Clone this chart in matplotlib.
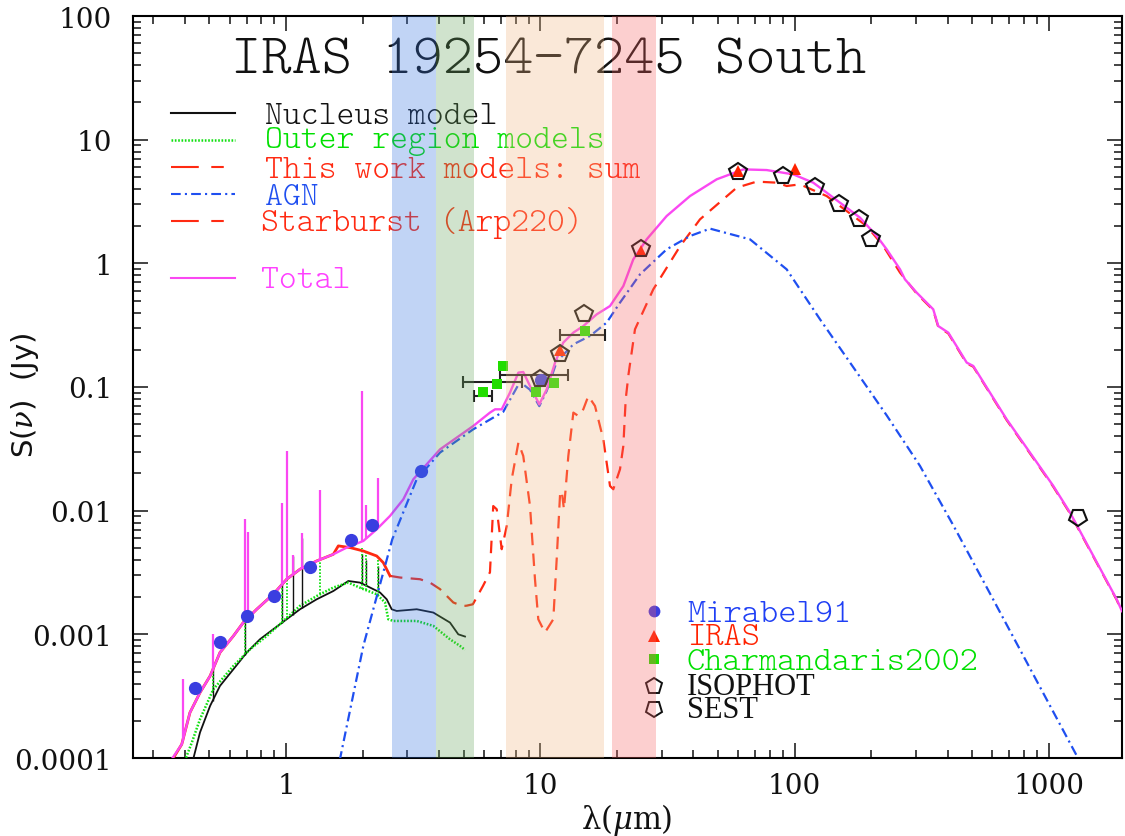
import numpy as np
import matplotlib
matplotlib.use("Agg")
import matplotlib.pyplot as plt
from matplotlib.markers import MarkerStyle
from matplotlib.transforms import Affine2D
from matplotlib.ticker import FixedLocator, FixedFormatter, LogLocator, NullFormatter

plt.rcParams["lines.scale_dashes"] = False
plt.rcParams["mathtext.fontset"] = "dejavuserif"

# ---------------- photometry (wavelength in micron, flux in Jy) ----------------
mirabel_wl = [0.44, 0.55, 0.70, 0.90, 1.24, 1.80, 2.18, 3.40, 10.1]
mirabel_f = [3.7e-4, 8.6e-4, 1.4e-3, 2.03e-3, 3.5e-3, 5.8e-3, 7.6e-3, 0.021, 0.113]

iras_wl = [12.0, 25.0, 60.0, 100.0]
iras_f = [0.20, 1.26, 5.57, 5.75]

charm_wl = [5.97, 6.74, 7.16, 9.59, 11.35, 15.0]
charm_f = [0.0911, 0.105, 0.148, 0.091, 0.107, 0.284]

isophot_wl = [9.97, 11.95, 14.9, 25.0, 60.0, 90.0, 120.0, 150.0, 180.0, 200.0]
isophot_f = [0.115, 0.184, 0.387, 1.30, 5.47, 5.08, 4.17, 3.00, 2.27, 1.56]

sest_wl = [1300.0]
sest_f = [0.00885]

# filter widths of the mid-infrared measurements
filt_lo = [5.49, 4.98, 6.94, 11.95]
filt_hi = [6.46, 8.45, 12.85, 17.96]
filt_f = [0.0846, 0.110, 0.125, 0.262]

# ---------------- model curves ----------------
total_wl = [0.352, 0.389, 0.419, 0.459, 0.503, 0.550, 0.621, 0.679, 0.767, 0.891,
            1.006, 1.135, 1.320, 1.535, 1.733, 2.014, 2.274, 2.564, 2.893, 3.168,
            4.033, 5.45, 6.34, 6.64, 7.05, 7.60, 8.20, 8.57, 9.11, 9.91,
            10.6, 11.43, 12.31, 13.49, 14.76, 16.67, 18.80, 21.21, 23.21, 26.20,
            31.4, 38.8, 49.4, 62.9, 77.6, 98.8, 118.4, 133.7, 150.8, 180.8,
            210.4, 230.2, 259.8, 271.7, 302.0, 351.0, 367.3, 402.2, 475.2, 504.3,
            682.3, 1041.0, 1211.0, 1848.0, 1939.0]
total_f = [9.5e-5, 1.29e-4, 2.33e-4, 3.38e-4, 4.61e-4, 7.13e-4, 9.70e-4, 1.245e-3, 1.595e-3, 2.11e-3,
           2.79e-3, 3.36e-3, 3.92e-3, 4.44e-3, 5.03e-3, 5.69e-3, 7.07e-3, 9.06e-3, 0.01236, 0.01795,
           0.0313, 0.0484, 0.0621, 0.066, 0.066, 0.0901, 0.1307, 0.1322, 0.1019, 0.0724,
           0.0958, 0.1575, 0.2285, 0.2753, 0.311, 0.387, 0.4515, 0.655, 1.077, 1.563,
           2.413, 3.50, 4.78, 5.75, 5.68, 5.24, 4.49, 3.73, 3.095, 2.342,
           1.663, 1.298, 0.894, 0.742, 0.580, 0.4247, 0.311, 0.2752, 0.1575, 0.1479,
           0.0548, 0.01584, 0.00965, 0.00192, 0.00154]

# emission lines in the total spectrum
line_wl = [0.392, 0.515, 0.690, 0.707, 0.962, 1.006, 1.062, 1.159, 1.36, 1.99, 2.064, 2.294]
line_top = [4.34e-4, 1.0e-3, 8.63e-3, 6.69e-3, 0.0115, 0.0304, 4.36e-3, 6.56e-3, 0.0146, 0.0928, 0.0111, 0.0185]

agn_wl = [1.625, 2.014, 2.618, 3.266, 4.033, 5.45, 7.15, 8.32, 9.11, 9.91, 10.6, 11.6,
          13.49, 15.68, 18.24, 20.58, 24.67, 31.4, 38.8, 46.5, 66.8, 93.1, 125.9, 170.2,
          230.2, 311.3, 420.7, 569.4, 1298.0, 1390.0]
agn_f = [9.5e-5, 8.06e-4, 5.87e-3, 0.01795, 0.0295, 0.0455, 0.063, 0.11, 0.095, 0.07, 0.093, 0.16,
         0.2214, 0.2584, 0.3317, 0.4813, 0.815, 1.298, 1.663, 1.908, 1.563, 0.894, 0.3526, 0.1443,
         0.059, 0.023, 0.00762, 0.0024, 1.01e-4, 5.5e-5]

starburst_wl = [5.10, 5.43, 5.95, 6.34, 6.53, 6.74, 7.05, 7.38, 7.72, 8.20, 8.57, 9.11, 9.53, 9.82,
                10.43, 11.25, 11.6, 11.96, 12.14, 12.39, 12.89, 13.49, 14.11, 14.76, 15.45, 16.41,
                17.69, 18.80, 19.37, 20.58, 21.21, 21.67, 22.23, 23.57, 27.82, 35.43, 42.46, 59.2,
                70.96, 85.04, 93.1, 105.0, 133.7, 160.3, 192.1, 223.3, 259.8, 302.0, 351.0, 367.3,
                402.2, 475.2, 504.3, 682.3, 1041.0, 1211.0, 1848.0, 1939.0]
starburst_f = [1.70e-3, 1.75e-3, 2.46e-3, 3.18e-3, 0.0109, 0.01026, 4.88e-3, 7.52e-3, 0.01795, 0.0355,
               0.0277, 0.0109, 2.79e-3, 1.324e-3, 1.034e-3, 1.324e-3, 4.05e-3, 0.01357, 0.01443,
               0.01026, 0.0277, 0.0621, 0.0583, 0.0660, 0.0846, 0.0702, 0.0378, 0.01584, 0.0149,
               0.0216, 0.0334, 0.0795, 0.1267, 0.2927, 0.6165, 1.372, 2.268, 4.09, 4.58, 4.49,
               4.22, 4.35, 3.50, 2.648, 2.002, 1.380, 0.841, 0.570, 0.418, 0.306, 0.271, 0.155,
               0.146, 0.054, 0.0156, 0.0095, 0.0019, 0.00152]

sum_wl = [0.355, 0.389, 0.419, 0.459, 0.503, 0.550, 0.621, 0.679, 0.767, 0.891, 1.006, 1.135,
          1.320, 1.535, 1.606, 1.785, 2.014, 2.274, 2.413, 2.564, 2.808, 3.365, 3.684, 4.033,
          4.548, 4.909, 5.10]
sum_f = [9.5e-5, 1.29e-4, 2.33e-4, 3.38e-4, 4.61e-4, 7.13e-4, 9.70e-4, 1.245e-3, 1.595e-3,
         2.11e-3, 2.79e-3, 3.36e-3, 3.92e-3, 4.44e-3, 5.19e-3, 5.03e-3, 4.72e-3, 4.30e-3,
         3.80e-3, 2.97e-3, 2.88e-3, 2.79e-3, 2.62e-3, 2.32e-3, 1.81e-3, 1.70e-3, 1.70e-3]

nucleus_wl = [0.43, 0.459, 0.503, 0.550, 0.621, 0.701, 0.790, 0.891, 1.006, 1.135, 1.320, 1.535,
              1.758, 1.954, 2.14, 2.342, 2.489, 2.604, 2.725, 3.266, 3.796, 4.414, 4.759, 5.057]
nucleus_f = [9.5e-5, 1.61e-4, 2.64e-4, 3.83e-4, 5.22e-4, 7.13e-4, 9.12e-4, 1.10e-3, 1.324e-3,
             1.595e-3, 1.92e-3, 2.24e-3, 2.70e-3, 2.62e-3, 2.39e-3, 2.18e-3, 1.92e-3, 1.595e-3,
             1.545e-3, 1.595e-3, 1.50e-3, 1.245e-3, 1.0e-3, 9.6e-4]
nucleus_line_wl = [0.515, 0.690, 0.962, 1.062, 1.159, 1.99, 2.064, 2.294]
nucleus_line_top = [5.5e-4, 1.5e-3, 2.6e-3, 4.3e-3, 6.0e-3, 4.5e-3, 4.0e-3, 3.6e-3]

outer_wl = [0.40, 0.426, 0.459, 0.518, 0.621, 0.722, 0.840, 0.962, 1.135, 1.320, 1.535, 1.758,
            2.014, 2.274, 2.451, 2.525, 2.642, 3.266, 3.796, 4.414, 4.833, 5.057]
outer_f = [9.5e-5, 1.33e-4, 2.06e-4, 3.60e-4, 5.55e-4, 7.58e-4, 9.70e-4, 1.245e-3, 1.70e-3,
           2.04e-3, 2.39e-3, 2.62e-3, 2.32e-3, 2.11e-3, 1.81e-3, 1.324e-3, 1.283e-3, 1.283e-3,
           1.17e-3, 9.12e-4, 8.06e-4, 7.48e-4]
outer_line_wl = [0.515, 0.690, 0.962, 1.006, 1.36, 1.99, 2.064, 2.294]
outer_line_top = [6.0e-4, 1.45e-3, 2.5e-3, 2.8e-3, 3.9e-3, 5.0e-3, 4.6e-3, 4.0e-3]

# shaded wavelength windows (micron)
band_lo = [2.61, 3.89, 7.31, 19.1]
band_hi = [3.89, 5.49, 17.8, 28.5]
band_colors = [(0.203, 0.45, 0.87), (0.40, 0.647, 0.36), (0.947, 0.713, 0.503), (0.973, 0.387, 0.387)]

title = "IRAS 19254\u22127245 South"
model_labels = ["Nucleus model", "Outer region models", "This work models: sum", "AGN",
                "Starburst (Arp220)", "Total"]
data_labels = ["Mirabel91", "IRAS", "Charmandaris2002", "ISOPHOT", "SEST"]

# ---------------- colours ----------------
PINK = "#fa48f2"
BLUE = "#1f4ff0"
RED = "#ff2a12"
GREEN = "#10e010"
BLACK = "#111111"

W, H = 1125, 837
fig = plt.figure(figsize=(W / 100, H / 100), dpi=100)


def fx(x):
    return x / W


def fy(y):
    return 1 - y / H


ax = fig.add_axes([fx(133), fy(759), (1122 - 133) / W, (759 - 17) / H])
ax.set_xscale("log")
ax.set_yscale("log")
ax.set_xlim(0.2502, 1939)
ax.set_ylim(1e-4, 100)

# model curves
ax.plot(nucleus_wl, nucleus_f, color=BLACK, lw=1.3, zorder=3)
ax.plot(outer_wl, outer_f, color=GREEN, lw=1.8, ls=(0, (1.2, 1.2)), zorder=3)

nb = 10 ** np.interp(np.log10(nucleus_line_wl), np.log10(nucleus_wl), np.log10(nucleus_f))
ax.vlines(nucleus_line_wl, nb, nucleus_line_top, color=BLACK, lw=1.0, zorder=3)
ob = 10 ** np.interp(np.log10(outer_line_wl), np.log10(outer_wl), np.log10(outer_f))
ax.vlines(outer_line_wl, ob, outer_line_top, color=GREEN, lw=1.3, linestyles=(0, (1.2, 1.2)), zorder=3)

sum_wl_a = np.array(sum_wl)
sum_f_a = np.array(sum_f)
spec = sum_wl_a <= 2.57
ax.plot(sum_wl_a[spec], sum_f_a[spec], color=RED, lw=2.0, zorder=3)
ax.plot(sum_wl_a[sum_wl_a >= 2.56], sum_f_a[sum_wl_a >= 2.56], color=RED, lw=1.6,
        dashes=(9, 6), zorder=3)

ax.plot(starburst_wl, starburst_f, color=RED, lw=1.6, dashes=(9, 6), zorder=3)
ax.plot(agn_wl, agn_f, color=BLUE, lw=1.6, dashes=(7, 3, 1.5, 3), zorder=3.5)

tb = 10 ** np.interp(np.log10(line_wl), np.log10(total_wl), np.log10(total_f))
ax.vlines(line_wl, tb, line_top, color=PINK, lw=1.6, zorder=4)
ax.plot(total_wl, total_f, color=PINK, lw=1.7, zorder=4)

# filter widths
fc = np.sqrt(np.array(filt_lo) * np.array(filt_hi))
ax.errorbar(fc, filt_f, xerr=[fc - np.array(filt_lo), np.array(filt_hi) - fc], fmt="none",
            ecolor="#222222", elinewidth=1.5, capsize=4, capthick=1.5, zorder=5)

# photometry
ax.plot(charm_wl, charm_f, "s", color="#22dd00", ms=7.5, mew=0, zorder=6)
ax.plot(mirabel_wl, mirabel_f, "o", color="#3a3ee0", ms=9.5, mew=0, zorder=6)
ax.plot(iras_wl, iras_f, "^", color="#ff2200", ms=9, mew=0, zorder=6)
ax.plot(isophot_wl, isophot_f, "p", mfc="none", mec=BLACK, ms=13, mew=1.5, zorder=7)
sest_marker = MarkerStyle("p", transform=Affine2D().rotate_deg(180))
ax.plot(sest_wl, sest_f, marker=sest_marker, ls="none", mfc="none", mec=BLACK, ms=13,
        mew=1.5, zorder=7)

# shaded windows, drawn over everything
for lo, hi, c in zip(band_lo, band_hi, band_colors):
    ax.axvspan(lo, hi, color=c, alpha=0.3, lw=0, zorder=10)

# ---------------- axes styling ----------------
for s in ax.spines.values():
    s.set_linewidth(1.5)
ax.tick_params(which="both", direction="in", top=True, right=True, width=1.1, colors="#111111")
ax.tick_params(which="major", length=10.5, pad=10)
ax.tick_params(which="minor", length=5.5)
ax.tick_params(axis="y", which="major", pad=15)

xt = [1, 10, 100, 1000]
xt_lab = ["1", "10", "100", "1000"]
yt = [1e-4, 1e-3, 1e-2, 1e-1, 1, 10, 100]
yt_lab = ["0.0001", "0.001", "0.01", "0.1", "1", "10", "100"]
ax.xaxis.set_major_locator(FixedLocator(xt))
ax.xaxis.set_major_formatter(FixedFormatter(xt_lab))
ax.yaxis.set_major_locator(FixedLocator(yt))
ax.yaxis.set_major_formatter(FixedFormatter(yt_lab))
ax.xaxis.set_minor_locator(LogLocator(base=10, subs=np.arange(2, 10), numticks=20))
ax.yaxis.set_minor_locator(LogLocator(base=10, subs=np.arange(2, 10), numticks=20))
ax.xaxis.set_minor_formatter(NullFormatter())
ax.yaxis.set_minor_formatter(NullFormatter())
for lab in ax.get_xticklabels() + ax.get_yticklabels():
    lab.set_fontfamily("DejaVu Serif")
    lab.set_fontsize(20)
    lab.set_color("#111111")

fig.text(fx(627), fy(820), r"λ($\mu$m)", ha="center", va="center", fontsize=22,
         family="DejaVu Serif", color="#111111")
fig.text(fx(25), fy(395), r"S($\nu$)  (Jy)", ha="center", va="center", rotation=90,
         fontsize=21, family="DejaVu Sans", color="#111111")

MONO = ["Latin Modern Mono Light", "Latin Modern Mono", "FreeMono", "Liberation Mono", "DejaVu Sans"]
T = fig.transFigure

ax.text(fx(231), fy(73), title, transform=T, ha="left", va="baseline", fontsize=41.5,
        family=MONO, color="#111111", zorder=2)

# model key
key_y_line = [114, 140.7, 168.3, 195, 222.3, 279.3]
key_y_text = [124.3, 147.7, 178.3, 205, 231, 288.3]
key_x_text = [265, 265, 265, 265, 261, 261]
key_colors = [BLACK, "#00e000", RED, BLUE, RED, "#ff40ff"]
key_styles = [dict(), dict(ls=(0, (1.2, 1.2)), lw=1.8), dict(dashes=(20, 9, 9, 20)),
              dict(dashes=(7, 3, 1.5, 3)), dict(dashes=(20, 9, 9, 20)), dict()]
line_colors = [BLACK, GREEN, RED, BLUE, RED, PINK]
for i, lab in enumerate(model_labels):
    st = dict(lw=1.5)
    st.update(key_styles[i])
    ax.plot([fx(171), fx(235)], [fy(key_y_line[i])] * 2, transform=T, clip_on=False,
            color=line_colors[i], zorder=2, **st)
    ax.text(fx(key_x_text[i]), fy(key_y_text[i]), lab, transform=T, ha="left", va="baseline",
            fontsize=24.5, family=MONO, color=key_colors[i], zorder=2)

# data key
dk_y_mark = [611.7, 636.7, 660, 686.7, 710]
dk_y_text = [621.7, 645, 670, 695, 718.3]
dk_colors = ["#1f3ff5", "#ff2200", "#00e000", "#111111", "#111111"]
dk_fonts = [MONO, MONO, MONO, ["Liberation Serif"], ["Liberation Serif"]]
dk_sizes = [25, 25, 25, 22, 22]
dk_markers = [dict(marker="o", color="#3a3ee0", ms=8.5, mew=0),
              dict(marker="^", color="#ff2200", ms=8, mew=0),
              dict(marker="s", color="#22dd00", ms=6.5, mew=0),
              dict(marker="p", mfc="none", mec=BLACK, ms=12, mew=1.4),
              dict(marker=sest_marker, mfc="none", mec=BLACK, ms=12, mew=1.4)]
for i, lab in enumerate(data_labels):
    ax.plot([fx(654)], [fy(dk_y_mark[i])], transform=T, clip_on=False, ls="none", zorder=2,
            **dk_markers[i])
    ax.text(fx(687), fy(dk_y_text[i]), lab, transform=T, ha="left", va="baseline",
            fontsize=dk_sizes[i], family=dk_fonts[i], color=dk_colors[i], zorder=2)

fig.savefig("out.png", dpi=100, facecolor="white")
